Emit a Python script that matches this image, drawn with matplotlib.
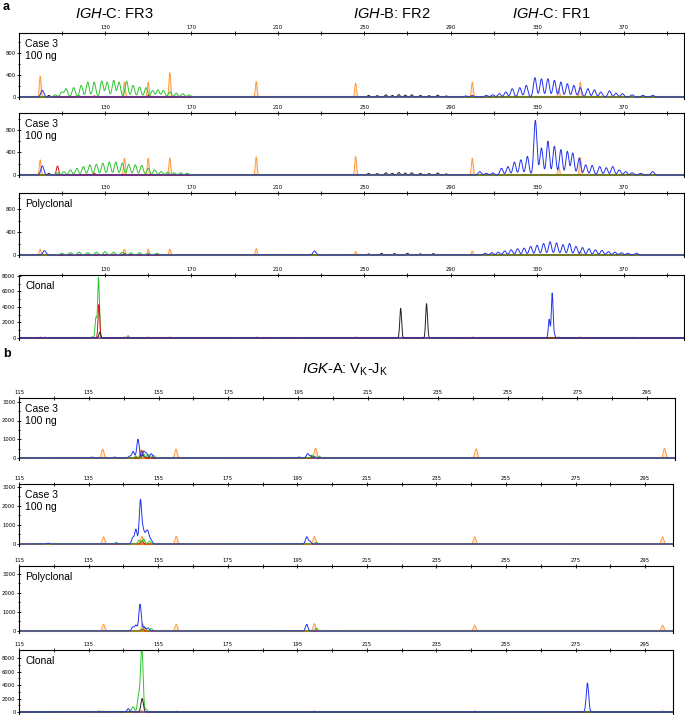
import numpy as np
import matplotlib
matplotlib.use('Agg')
import matplotlib.pyplot as plt

plt.rcParams['font.family'] = 'Liberation Sans'
plt.rcParams['mathtext.fontset'] = 'custom'
plt.rcParams['mathtext.rm'] = 'Liberation Sans'
plt.rcParams['mathtext.it'] = 'Liberation Sans:italic'

W, H = 685, 715

# ---- panel a : IGH, peaks as (size bp, height rfu) ----
a_xticks = list(range(110, 400, 20))
a_xlabels = [130, 170, 210, 250, 290, 330, 370]

a1_orange = [(100, 380), (139, 270), (150, 270), (160, 440), (200, 280), (246, 250), (300, 270), (340, 150), (350, 270)]
a1_green = [(107, 40), (110, 90), (112, 150), (115.5, 170), (119, 210), (122, 270), (125, 270), (128.5, 290),
            (131, 270), (134, 300), (136.5, 270), (140, 285), (143, 210), (146, 180), (149, 170), (152, 120),
            (154.5, 130), (157, 120), (160, 90), (163, 70), (166, 60), (169, 40)]
a1_blue = [(101, 120), (297, 20), (300, 25), (306.5, 30), (309.5, 40), (312.5, 60), (315.5, 90), (318.5, 150),
           (322, 170), (325, 210), (329, 350), (332, 330), (335, 330), (338, 300), (341, 270), (344, 240),
           (347, 210), (350, 170), (353.5, 150), (356.5, 130), (359.5, 90), (363.5, 110), (366.5, 70),
           (369.5, 60), (374, 40), (379, 30), (383.5, 30)]
a1_black = [(104, 30), (118, 20), (252, 30), (256, 25), (260, 40), (263, 30), (266, 45), (269, 35),
            (272, 40), (276, 30), (280, 25), (284, 35), (288, 20)]
a1_red = [(125, 20), (150, 25), (300, 20)]

a2_orange = [(100, 270), (139, 300), (150, 300), (160, 300), (200, 320), (246, 330), (300, 300), (340, 150), (350, 310)]
a2_green = [(108, 40), (111, 60), (114, 90), (117, 120), (120, 150), (123, 180), (126, 190), (129, 210),
            (132, 230), (135, 230), (138, 210), (141, 190), (144, 180), (147, 170), (150, 120), (153, 90),
            (156, 60), (159, 50), (162, 40), (165, 40), (168, 30)]
a2_blue = [(101, 160), (303.5, 60), (306.5, 30), (309.5, 35), (313.5, 120), (316.5, 150), (319.5, 230),
           (322.5, 270), (325.5, 330), (329.2, 970), (332, 480), (335, 600), (338, 510), (341, 450),
           (344, 420), (346.5, 390), (349.5, 300), (352.5, 180), (355.5, 170), (359, 150), (362, 130),
           (365, 150), (368, 90), (371, 60), (374, 40), (378, 30), (383.5, 60)]
a2_black = [(104, 30), (252, 30), (256, 25), (260, 40), (263, 30), (266, 45), (269, 35),
            (272, 40), (276, 30), (280, 25), (284, 35), (288, 20)]
a2_red = [(108, 160), (125, 30)]

a3_orange = [(100, 100), (139, 100), (150, 100), (160, 100), (200, 110), (246, 60), (300, 70), (350, 60)]
a3_green = [(110, 30), (114, 40), (118, 50), (122, 40), (126, 50), (130, 60), (134, 50), (138, 50),
            (142, 40), (146, 40), (150, 30), (154, 30)]
a3_blue = [(102, 75), (227, 70), (306, 30), (309, 40), (312, 50), (315, 70), (318, 90), (321, 110),
           (324, 120), (327, 150), (330, 170), (333, 200), (336, 230), (339, 210), (342, 180), (345, 200),
           (348, 150), (351, 130), (354, 110), (357, 90), (360, 80), (363, 60), (366, 50), (369, 40),
           (372, 30), (376, 30)]
a3_black = [(252, 20), (258, 30), (264, 25), (270, 30), (276, 20), (282, 25)]
a3_red = [(139, 30)]

a4_orange = [(100, 150), (139, 150), (150, 150), (160, 150), (200, 150), (246, 150), (300, 150), (340, 150), (350, 150)]
a4_green = [(116, 80), (124, 150), (125.8, 2600), (127, 7800), (140.7, 300), (374, 100)]
a4_red = [(127.2, 4300)]
a4_black = [(127.6, 750), (266.6, 600), (266.9, 3350), (278.8, 4170), (279.3, 500)]
a4_blue = [(102, 100), (335.6, 2400), (337, 5770), (338, 400)]

# ---- panel b : IGK ----
b_xticks = list(range(115, 305, 10))
b_xlabels = [115, 135, 155, 175, 195, 215, 235, 255, 275, 295]

b1_orange = [(139, 470), (150, 450), (160, 470), (200, 525), (246, 490), (300, 520)]
b1_blue = [(136, 50), (142.4, 50), (146.7, 100), (147.7, 350), (149.1, 1000), (150.7, 350), (151.5, 250),
           (152.9, 230), (195.3, 50), (197.7, 230), (198.6, 120)]
b1_green = [(148.5, 100), (150.5, 300), (152, 200), (153.5, 150), (199, 150), (201, 100)]
b1_red = [(150.2, 380)]
b1_black = [(150.5, 150), (199.5, 80)]

b2_orange = [(139.3, 375), (150.3, 410), (160.2, 410), (199.9, 410), (246, 370), (300, 370)]
b2_blue = [(123.4, 50), (147.7, 320), (148.6, 770), (149.9, 2290), (150.7, 680), (151.5, 500),
           (152.1, 550), (152.9, 230), (197.7, 375), (198.6, 150)]
b2_green = [(143, 90), (149.5, 200), (150.8, 270), (152.5, 150), (200.5, 90)]
b2_red = [(150.3, 150)]

b3_orange = [(139.3, 350), (150.5, 385), (160.2, 350), (199.9, 385), (246, 300), (300, 300)]
b3_blue = [(147.7, 210), (148.6, 300), (149.8, 1400), (151, 210), (152.1, 160), (197.7, 350)]
b3_green = [(151, 210), (153, 130), (200.5, 150)]
b3_red = [(150.5, 100)]

b4_orange = [(139.3, 150), (150.3, 200), (160.2, 150), (199.9, 150), (246, 150), (300, 150)]
b4_green = [(138.1, 150), (142.4, 100), (147.7, 650), (148.1, 200), (149.4, 2400), (150.3, 9800), (151.5, 400)]
b4_black = [(150.4, 2000)]
b4_blue = [(146.4, 500), (278.4, 4300)]

COLORS = {'orange': '#ff9a3c', 'green': '#2ec42e', 'red': '#dd1111', 'black': '#222222', 'blue': '#2233ee'}


def trace(x, peaks, s):
    y = np.zeros_like(x)
    for p, h in peaks:
        y += h * np.exp(-0.5 * ((x - p) / s) ** 2)
    return y


def panel(l, t, r, base, xlim, ymax, xticks, xlabels, yticks, yminor, label, traces, sig):
    # axes box in pixels, baseline 2px above axes bottom
    lo = -ymax * 2.0 / (base - t)
    ax = fig.add_axes([l / W, 1 - (base + 2) / H, (r - l) / W, (base + 2 - t) / H])
    x = np.linspace(xlim[0], xlim[1], 8000)
    ax.axhline(0, color='#e67a22', lw=1.5, zorder=1)
    for col, peaks in traces:
        s = sig.get(col, 0.4)
        y = trace(x, peaks, s)
        if col == 'orange':
            ax.fill_between(x, 0, y, color=COLORS[col], alpha=0.25, lw=0, zorder=2)
        ax.plot(x, y, color=COLORS[col], lw=0.7, zorder=2)
    ax.set_xlim(xlim)
    ax.set_ylim(lo, ymax)
    ax.xaxis.tick_top()
    ax.set_xticks(xticks)
    ax.set_xticklabels([str(v) if v in xlabels else '' for v in xticks])
    ax.set_yticks(yticks)
    ax.set_yticks(yminor, minor=True)
    ax.tick_params(axis='both', which='both', direction='inout', length=3, width=0.6,
                   labelsize=3.8, pad=1)
    ax.tick_params(axis='x', which='both', bottom=False, labelbottom=False)
    ax.tick_params(axis='y', which='minor', length=2)
    for lab in ax.get_xticklabels() + ax.get_yticklabels():
        lab.set_family('DejaVu Sans')
    ax.spines['bottom'].set_visible(False)
    for sp in ['left', 'top', 'right']:
        ax.spines[sp].set_linewidth(0.8)
    ax.annotate(label, xy=(0, 1), xycoords='axes fraction', xytext=(6, -6),
                textcoords='offset pixels', ha='left', va='top', fontsize=7.5, linespacing=1.3)
    return ax


fig = plt.figure(figsize=(W / 100, H / 100), dpi=100)

a_xlim = (90.2, 398)
ya = [0, 400, 800]
ya_m = [200, 600, 1000]
sa = {'orange': 0.4, 'green': 0.7, 'blue': 0.7, 'black': 0.5, 'red': 0.5}
sc = {'orange': 0.4, 'green': 0.4, 'blue': 0.4, 'black': 0.4, 'red': 0.4}
panel(19, 33, 684, 97, a_xlim, 1160, a_xticks, a_xlabels, ya, ya_m, 'Case 3\n100 ng',
      [('orange', a1_orange), ('black', a1_black), ('red', a1_red), ('green', a1_green), ('blue', a1_blue)], sa)
panel(19, 113, 684, 175, a_xlim, 1100, a_xticks, a_xlabels, ya, ya_m, 'Case 3\n100 ng',
      [('orange', a2_orange), ('black', a2_black), ('red', a2_red), ('green', a2_green), ('blue', a2_blue)], sa)
panel(19, 193, 684, 255, a_xlim, 1080, a_xticks, a_xlabels, ya, ya_m, 'Polyclonal',
      [('orange', a3_orange), ('black', a3_black), ('red', a3_red), ('green', a3_green), ('blue', a3_blue)], sa)
panel(19, 275, 684, 338, a_xlim, 8100, a_xticks, a_xlabels, [0, 2000, 4000, 6000, 8000], [1000, 3000, 5000, 7000],
      'Clonal', [('orange', a4_orange), ('green', a4_green), ('red', a4_red), ('black', a4_black), ('blue', a4_blue)],
      sc)

b_xlim = (115, 303)
yb = [0, 1000, 2000, 3000]
yb_m = [500, 1500, 2500]
sb = {'orange': 0.35, 'green': 0.35, 'blue': 0.35, 'black': 0.35, 'red': 0.35}
panel(19, 398, 675, 458, b_xlim, 3200, b_xticks, b_xlabels, yb, yb_m, 'Case 3\n100 ng',
      [('orange', b1_orange), ('black', b1_black), ('red', b1_red), ('green', b1_green), ('blue', b1_blue)], sb)
panel(19, 484, 673, 544, b_xlim, 3150, b_xticks, b_xlabels, yb, yb_m, 'Case 3\n100 ng',
      [('orange', b2_orange), ('red', b2_red), ('green', b2_green), ('blue', b2_blue)], sb)
panel(19, 566, 673, 631, b_xlim, 3400, b_xticks, b_xlabels, yb, yb_m, 'Polyclonal',
      [('orange', b3_orange), ('red', b3_red), ('green', b3_green), ('blue', b3_blue)], sb)
panel(19, 650, 673, 712, b_xlim, 9200, b_xticks, b_xlabels, [0, 2000, 4000, 6000, 8000], [1000, 3000, 5000, 7000],
      'Clonal', [('orange', b4_orange), ('green', b4_green), ('black', b4_black), ('blue', b4_blue)], sb)

# panel titles
fig.text(3 / W, 1 - 7 / H, 'a', fontsize=9, fontweight='bold', va='center')
fig.text(75 / W, 1 - 14 / H, r'$\mathit{IGH}$-C: FR3', fontsize=10.5, va='center')
fig.text(353 / W, 1 - 14 / H, r'$\mathit{IGH}$-B: FR2', fontsize=10.5, va='center')
fig.text(512 / W, 1 - 14 / H, r'$\mathit{IGH}$-C: FR1', fontsize=10.5, va='center')
fig.text(3 / W, 1 - 354 / H, 'b', fontsize=9, fontweight='bold', va='center')
fig.text(302 / W, 1 - 370 / H, r'$\mathit{IGK}$-A: V$_\mathrm{K}$-J$_\mathrm{K}$', fontsize=10.5, va='center')

fig.savefig('out.png', dpi=100)
